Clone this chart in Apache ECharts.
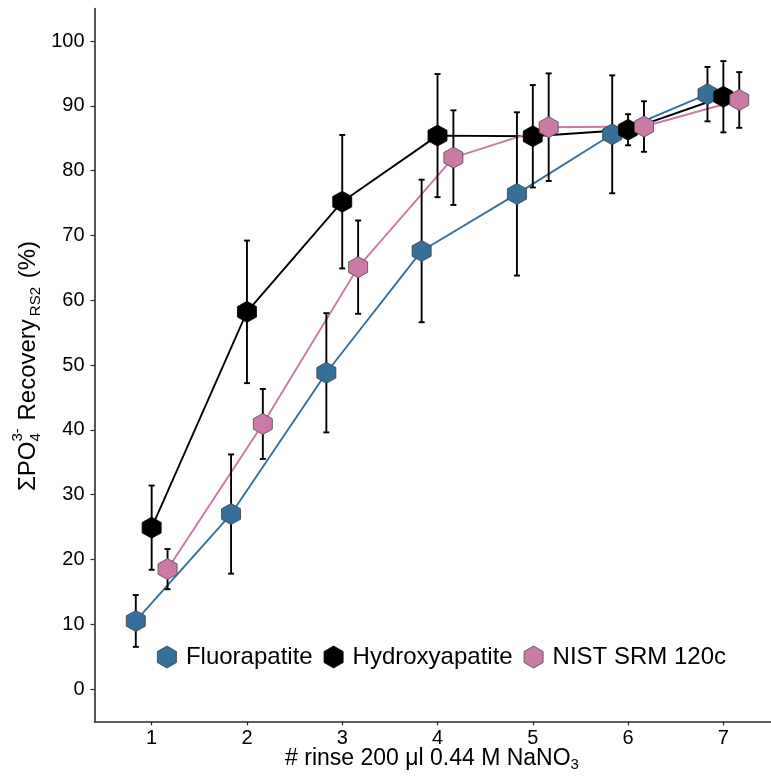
<!DOCTYPE html>
<html>
<head>
<meta charset="utf-8">
<script src="https://cdn.jsdelivr.net/npm/echarts@6/dist/echarts.min.js"></script>
<style>
  html, body { margin: 0; padding: 0; background: #fff; }
  #chart { width: 771px; height: 778px; }
</style>
</head>
<body>
<div id="chart"></div>
<script>
// Rinse number (x) and mean recovery (%) with standard deviations per material
const rinses = [1, 2, 3, 4, 5, 6, 7];
const seriesNames = ['Fluorapatite', 'Hydroxyapatite', 'NIST SRM 120c'];
const fluorapatite   = [10.5, 27.0, 48.8, 67.6, 76.4, 85.6, 91.8];
const fluorapatiteSD = [4.0, 9.2, 9.2, 11.0, 12.6, 9.1, 4.2];
const hydroxyapatite   = [24.9, 58.2, 75.2, 85.4, 85.3, 86.3, 91.4];
const hydroxyapatiteSD = [6.5, 11.0, 10.3, 9.5, 7.9, 2.4, 5.5];
const nist   = [18.5, 40.9, 65.1, 82.0, 86.7, 86.8, 90.9];
const nistSD = [3.1, 5.4, 7.2, 7.3, 8.3, 3.9, 4.3];
const yTicks = [0, 10, 20, 30, 40, 50, 60, 70, 80, 90, 100];
const xTicks = [1, 2, 3, 4, 5, 6, 7];

const FONT = '"Liberation Sans", Arial, Helvetica, sans-serif';
const colors = ['#35709A', '#000000', '#CC79A7'];
const borders = ['#3d3d3d', '#000000', '#4a4a4a'];
const means = [fluorapatite, hydroxyapatite, nist];
const sds = [fluorapatiteSD, hydroxyapatiteSD, nistSD];
// side-by-side dodge of the three materials around each rinse number
const dodge = [-1 / 6, 0, 1 / 6];
const hexagon = 'path://M0,-1L0.866,-0.5L0.866,0.5L0,1L-0.866,0.5L-0.866,-0.5Z';

const chart = echarts.init(document.getElementById('chart'), null, { renderer: 'canvas' });

const series = [];
seriesNames.forEach((name, k) => {
  const pts = rinses.map((r, i) => [r + dodge[k], means[k][i]]);
  series.push({
    name, type: 'line', data: pts, showSymbol: false, silent: true,
    z: 1, lineStyle: { color: colors[k], width: 1.9 }, itemStyle: { color: colors[k] },
    animation: false
  });
});
seriesNames.forEach((name, k) => {
  const bars = rinses.map((r, i) => [r + dodge[k], means[k][i] - sds[k][i], means[k][i] + sds[k][i]]);
  series.push({
    name, type: 'custom', data: bars, z: 2, silent: true, animation: false,
    encode: { x: 0, y: [1, 2] },
    renderItem: (params, api) => {
      const x = api.value(0);
      const lo = api.coord([x, api.value(1)]);
      const hi = api.coord([x, api.value(2)]);
      const cap = 3;
      const st = { stroke: '#000', lineWidth: 1.9 };
      return {
        type: 'group',
        children: [
          { type: 'line', shape: { x1: lo[0], y1: lo[1], x2: hi[0], y2: hi[1] }, style: st },
          { type: 'line', shape: { x1: hi[0] - cap, y1: hi[1], x2: hi[0] + cap, y2: hi[1] }, style: st },
          { type: 'line', shape: { x1: lo[0] - cap, y1: lo[1], x2: lo[0] + cap, y2: lo[1] }, style: st }
        ]
      };
    }
  });
});
seriesNames.forEach((name, k) => {
  const pts = rinses.map((r, i) => [r + dodge[k], means[k][i]]);
  series.push({
    name, type: 'scatter', data: pts, z: 3, animation: false,
    symbol: hexagon, symbolSize: [19, 21],
    itemStyle: { color: colors[k], borderColor: borders[k], borderWidth: 0.8, opacity: 1 }
  });
});

// Titles with sub/superscripts laid out from measured text widths
const ctx = document.createElement('canvas').getContext('2d');
function textWidth(t, size) {
  ctx.font = size + 'px ' + FONT;
  return ctx.measureText(t).width;
}
function buildTitle(parts, cx, cy, rotation) {
  let total = 0;
  parts.forEach(p => {
    p.w = p.stack ? Math.max(...p.stack.map(s => textWidth(s.t, s.size))) : textWidth(p.t, p.size);
    total += p.w + (p.gap || 0);
  });
  let x = -total / 2;
  const children = [];
  parts.forEach(p => {
    const items = p.stack || [p];
    items.forEach(s => {
      children.push({
        type: 'text', x: x, y: s.dy || 0,
        style: { text: s.t, font: s.size + 'px ' + FONT, fill: '#000', align: 'left', verticalAlign: 'middle' }
      });
    });
    x += p.w + (p.gap || 0);
  });
  return { type: 'group', x: cx, y: cy, rotation: rotation, children, silent: true };
}

const yTitle = buildTitle([
  { t: 'ΣPO', size: 24 },
  { stack: [{ t: '4', size: 15, dy: 8 }, { t: '3-', size: 15, dy: -10 }], gap: 1 },
  { t: ' Recovery', size: 24, gap: 3 },
  { t: 'RS2', size: 15, dy: 8, gap: 2 },
  { t: ' (%)', size: 24 }
], 28, 366, Math.PI / 2);

const xTitle = buildTitle([
  { t: '# rinse 200 μl 0.44 M NaNO', size: 23 },
  { t: '3', size: 15, dy: 6 }
], 432, 759, 0);

const axisCol = '#2b2b2b';
chart.setOption({
  backgroundColor: '#ffffff',
  animation: false,
  grid: { left: 94.5, right: 0, top: 8.6, bottom: 56.6, containLabel: false },
  xAxis: {
    type: 'value', min: 0.4, max: 7.5,
    axisLine: { show: true, onZero: false, lineStyle: { color: axisCol, width: 1.6 } },
    axisTick: { show: true, length: 4, lineStyle: { color: axisCol, width: 1.2 }, customValues: xTicks },
    axisLabel: { customValues: xTicks, fontSize: 20, color: '#000', fontFamily: FONT, margin: 7 },
    splitLine: { show: false }
  },
  yAxis: {
    type: 'value', min: -5, max: 105,
    axisLine: { show: true, onZero: false, lineStyle: { color: axisCol, width: 1.6 } },
    axisTick: { show: true, length: 4, lineStyle: { color: axisCol, width: 1.2 }, customValues: yTicks },
    axisLabel: { customValues: yTicks, fontSize: 20, color: '#000', fontFamily: FONT, margin: 10 },
    splitLine: { show: false }
  },
  legend: {
    left: 152, top: 640, orient: 'horizontal',
    itemWidth: 20, itemHeight: 22, itemGap: 11,
    textStyle: { fontSize: 24, color: '#000', fontFamily: FONT, padding: [0, 0, 0, 4] },
    data: seriesNames.map((n, k) => ({
      name: n, icon: hexagon,
      itemStyle: { color: colors[k], borderColor: borders[k], borderWidth: 0.8 }
    }))
  },
  graphic: [yTitle, xTitle],
  series
});
</script>
</body>
</html>
